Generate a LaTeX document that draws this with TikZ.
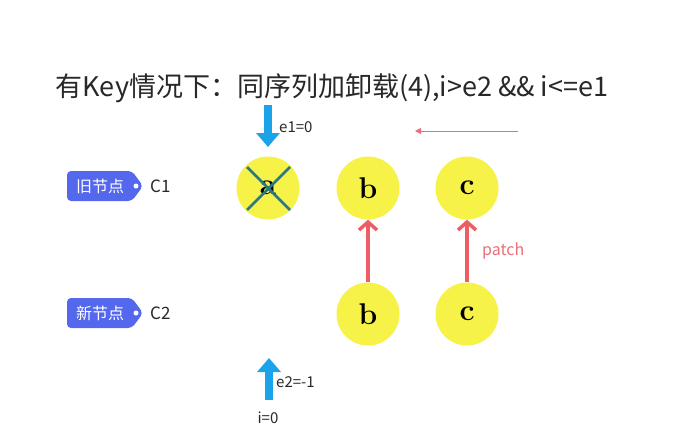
\documentclass[tikz,border=0pt]{standalone}
\usepackage{fontspec}
\newfontfamily\cjk{Noto Sans CJK SC}
\usetikzlibrary{arrows.meta}
\definecolor{ballyellow}{RGB}{247,242,72}
\definecolor{skyblue}{RGB}{26,163,232}
\definecolor{tagblue}{RGB}{84,104,238}
\definecolor{patchred}{RGB}{238,92,100}
\definecolor{lightred}{RGB}{232,112,122}
\definecolor{crossteal}{RGB}{40,120,135}
\definecolor{textgray}{RGB}{40,40,40}
\tikzset{
  ball/.style={circle,fill=ballyellow,minimum size=63pt,inner sep=0pt,font=\fontsize{30}{30}\selectfont\bfseries},
  bluearrow/.style={draw=skyblue,line width=7.5pt,-{Triangle[length=14pt,width=23pt]}},
  patcharrow/.style={draw=patchred,line width=3.5pt,-{Straight Barb[length=8pt,width=18pt]}},
  thinarrow/.style={draw=lightred,line width=1pt,-{Triangle[length=6pt,width=6pt]}},
  tagshape/.style={fill=tagblue,rounded corners=4pt},
  tagtext/.style={text=white,font=\cjk\fontsize{16}{16}\selectfont,inner sep=0pt},
  lbl/.style={text=textgray,font=\cjk\fontsize{15}{15}\selectfont,inner sep=0pt},
  clbl/.style={text=textgray,font=\cjk\fontsize{17}{17}\selectfont,inner sep=0pt}
}
\begin{document}
\begin{tikzpicture}[x=1pt,y=-1pt]
\useasboundingbox[fill=white] (0,0) rectangle (686,444);
% title
\node[text=textgray,font=\cjk\fontsize{27}{27}\selectfont,inner sep=0pt] (title) at (332,88) {有Key情况下：同序列加卸载(4),i>e2 \&\& i<=e1};
% balls
\node[ball] (a1) at (268,188) {a};
\node[ball] (b1) at (368,188) {b};
\node[ball] (c1) at (467,188) {c};
\node[ball] (b2) at (368,314) {b};
\node[ball] (c2) at (467,314) {c};
% cross on a
\coordinate (x1) at (247,167);
\coordinate (x2) at (290,210);
\coordinate (x3) at (290,167);
\coordinate (x4) at (247,210);
\draw[crossteal,line width=2.5pt] (x1) -- (x2) (x3) -- (x4);
% patch arrows
\draw[patcharrow] (b2.north) -- (b1.south);
\draw[patcharrow] (c2.north) -- (c1.south);
\node[lbl,text=lightred,anchor=west,font=\cjk\fontsize{16}{16}\selectfont] (patch) at (482,251) {patch};
% thin red arrow
\coordinate (r1) at (518,131);
\coordinate (r2) at (415,131);
\draw[thinarrow] (r1) -- (r2);
% blue arrows
\coordinate (e1s) at (268,105);
\coordinate (e1t) at (268,147);
\draw[bluearrow] (e1s) -- (e1t);
\node[lbl,anchor=west] (e1) at (279,127) {e1=0};
\coordinate (e2s) at (269,400);
\coordinate (e2t) at (269,358);
\draw[bluearrow] (e2s) -- (e2t);
\node[lbl,anchor=west] (e2) at (276,382) {e2=-1};
\node[lbl] (i0) at (268,418) {i=0};
% tags
\fill[tagshape] (67,171) -- (132,171) -- (143,186) -- (132,201) -- (67,201) -- cycle;
\node[tagtext] (old) at (100,186) {旧节点};
\fill[white] (136,186) circle (2.5);
\node[clbl,anchor=west] (cone) at (150,186) {C1};
\fill[tagshape] (67,298) -- (132,298) -- (143,313) -- (132,328) -- (67,328) -- cycle;
\node[tagtext] (new) at (100,313) {新节点};
\fill[white] (136,313) circle (2.5);
\node[clbl,anchor=west] (ctwo) at (150,313) {C2};
\end{tikzpicture}
\end{document}
